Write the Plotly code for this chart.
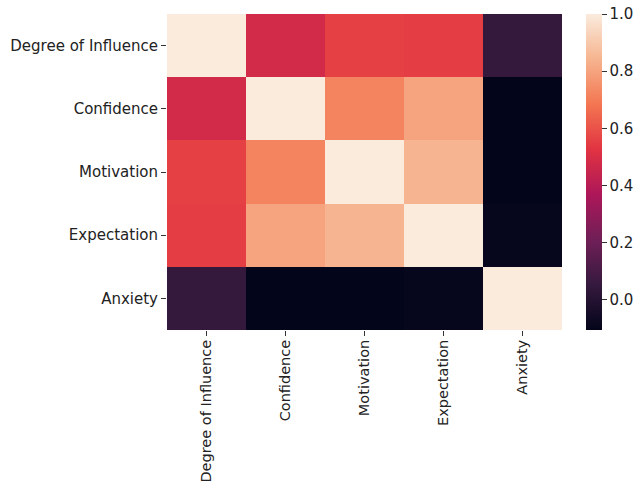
import plotly.graph_objects as go

# Correlation matrix of survey measures
labels = ["Degree of Influence", "Confidence", "Motivation", "Expectation", "Anxiety"]
row_influence = [1.00, 0.48, 0.56, 0.55, 0.05]
row_confidence = [0.48, 1.00, 0.72, 0.80, -0.105]
row_motivation = [0.56, 0.72, 1.00, 0.845, -0.105]
row_expectation = [0.55, 0.80, 0.845, 1.00, -0.095]
row_anxiety = [0.05, -0.105, -0.105, -0.095, 1.00]
colorbar_ticks = [0.0, 0.2, 0.4, 0.6, 0.8, 1.0]

corr = [row_influence, row_confidence, row_motivation, row_expectation, row_anxiety]

# "rocket"-style sequential colour map
rocket = [
    [0.000, "#03051a"],
    [0.143, "#35193e"],
    [0.286, "#701f57"],
    [0.429, "#ad1759"],
    [0.571, "#e13342"],
    [0.714, "#f37651"],
    [0.857, "#f6b48f"],
    [1.000, "#faebdd"],
]

flat = [v for r in corr for v in r]
zmin, zmax = min(flat), max(flat)

tick_font = dict(family="DejaVu Sans", size=15, color="#222")
xtick_font = dict(family="DejaVu Sans", size=14.5, color="#222")

fig = go.Figure(
    go.Heatmap(
        z=corr,
        x=labels,
        y=labels,
        zmin=zmin,
        zmax=zmax,
        colorscale=rocket,
        hovertemplate="%{y} / %{x}: %{z:.2f}<extra></extra>",
        colorbar=dict(
            x=(586 - 167) / 395,
            xanchor="left",
            y=0.5,
            yanchor="middle",
            len=1.0,
            lenmode="fraction",
            thickness=16,
            thicknessmode="pixels",
            outlinewidth=0,
            ticks="outside",
            ticklen=5,
            tickwidth=1,
            tickcolor="#333",
            tickvals=colorbar_ticks,
            ticktext=[f"{t:.1f}" for t in colorbar_ticks],
            tickfont=tick_font,
            xpad=0,
            ypad=0,
        ),
    )
)

fig.update_xaxes(
    tickangle=-90,
    ticks="outside",
    ticklen=5,
    tickcolor="#333",
    tickfont=xtick_font,
    ticklabelstandoff=-2,
    showgrid=False,
    zeroline=False,
    showline=False,
    automargin=False,
)
fig.update_yaxes(
    autorange="reversed",
    ticks="outside",
    ticklen=5,
    tickcolor="#333",
    tickfont=tick_font,
    showgrid=False,
    zeroline=False,
    showline=False,
    automargin=False,
)

fig.update_layout(
    width=635,
    height=486,
    margin=dict(l=167, r=73, t=14, b=156, autoexpand=False),
    paper_bgcolor="white",
    plot_bgcolor="white",
    font=tick_font,
)

fig.write_html("out.html")
